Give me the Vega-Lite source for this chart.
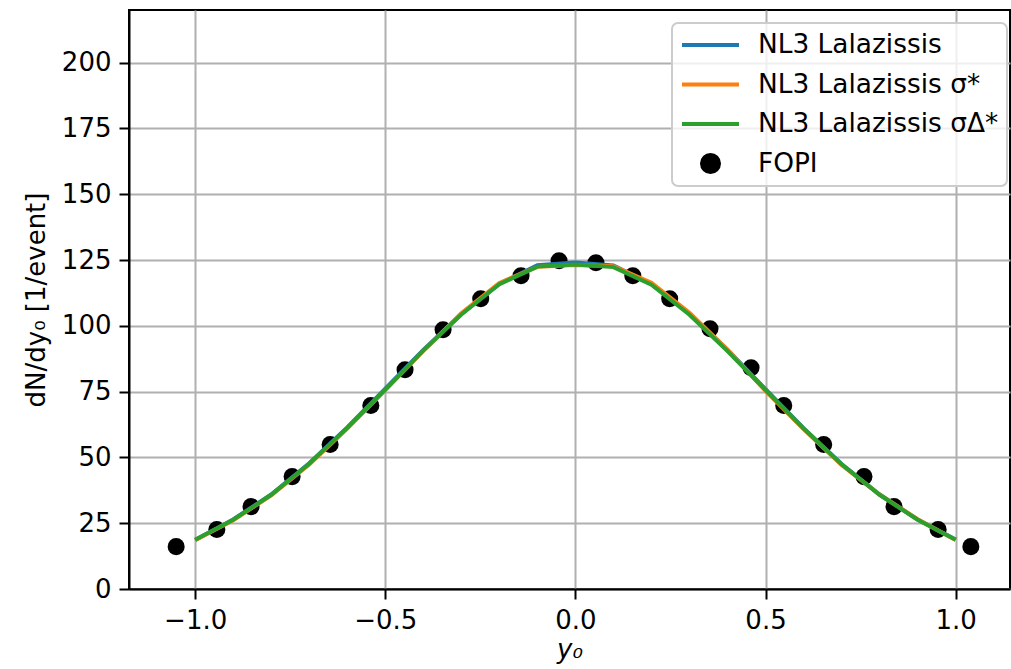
{
  "$schema": "https://vega.github.io/schema/vega-lite/v6.json",
  "width": 881,
  "height": 579,
  "autosize": {"type": "none"},
  "padding": {"left": 129, "top": 10, "right": 1, "bottom": 80},
  "background": "white",
  "config": {
    "font": "DejaVu Sans",
    "view": {"stroke": "black", "strokeWidth": 2},
    "axis": {
      "domainColor": "black",
      "domainWidth": 2,
      "tickColor": "black",
      "tickWidth": 2,
      "tickSize": 10,
      "labelFont": "DejaVu Sans",
      "labelFontSize": 26,
      "labelColor": "black",
      "labelPadding": 8,
      "titleFont": "DejaVu Sans",
      "titleFontSize": 26,
      "titleFontWeight": "normal",
      "titleColor": "black",
      "gridColor": "#b0b0b0",
      "gridWidth": 2
    }
  },
  "datasets": {
    "rapidity": [
      {"series": "FOPI", "y0": -1.050, "dndy": 16.1},
      {"series": "FOPI", "y0": -0.943, "dndy": 22.6},
      {"series": "FOPI", "y0": -0.853, "dndy": 31.3},
      {"series": "FOPI", "y0": -0.745, "dndy": 42.7},
      {"series": "FOPI", "y0": -0.645, "dndy": 54.9},
      {"series": "FOPI", "y0": -0.538, "dndy": 69.7},
      {"series": "FOPI", "y0": -0.448, "dndy": 83.3},
      {"series": "FOPI", "y0": -0.348, "dndy": 98.5},
      {"series": "FOPI", "y0": -0.249, "dndy": 110.3},
      {"series": "FOPI", "y0": -0.143, "dndy": 119.0},
      {"series": "FOPI", "y0": -0.043, "dndy": 124.7},
      {"series": "FOPI", "y0": 0.054, "dndy": 124.0},
      {"series": "FOPI", "y0": 0.151, "dndy": 119.0},
      {"series": "FOPI", "y0": 0.248, "dndy": 110.3},
      {"series": "FOPI", "y0": 0.354, "dndy": 98.9},
      {"series": "FOPI", "y0": 0.462, "dndy": 84.1},
      {"series": "FOPI", "y0": 0.548, "dndy": 69.7},
      {"series": "FOPI", "y0": 0.653, "dndy": 54.9},
      {"series": "FOPI", "y0": 0.759, "dndy": 42.7},
      {"series": "FOPI", "y0": 0.838, "dndy": 31.3},
      {"series": "FOPI", "y0": 0.954, "dndy": 22.6},
      {"series": "FOPI", "y0": 1.040, "dndy": 16.1},

      {"series": "NL3 Lalazissis", "y0": -1.0, "dndy": 18.6},
      {"series": "NL3 Lalazissis", "y0": -0.9, "dndy": 26.4},
      {"series": "NL3 Lalazissis", "y0": -0.8, "dndy": 35.9},
      {"series": "NL3 Lalazissis", "y0": -0.7, "dndy": 47.8},
      {"series": "NL3 Lalazissis", "y0": -0.6, "dndy": 61.4},
      {"series": "NL3 Lalazissis", "y0": -0.5, "dndy": 76.1},
      {"series": "NL3 Lalazissis", "y0": -0.4, "dndy": 90.8},
      {"series": "NL3 Lalazissis", "y0": -0.3, "dndy": 104.5},
      {"series": "NL3 Lalazissis", "y0": -0.2, "dndy": 115.9},
      {"series": "NL3 Lalazissis", "y0": -0.1, "dndy": 123.0},
      {"series": "NL3 Lalazissis", "y0": 0.0, "dndy": 124.1},
      {"series": "NL3 Lalazissis", "y0": 0.1, "dndy": 122.9},
      {"series": "NL3 Lalazissis", "y0": 0.2, "dndy": 115.8},
      {"series": "NL3 Lalazissis", "y0": 0.3, "dndy": 104.6},
      {"series": "NL3 Lalazissis", "y0": 0.4, "dndy": 90.9},
      {"series": "NL3 Lalazissis", "y0": 0.5, "dndy": 75.9},
      {"series": "NL3 Lalazissis", "y0": 0.6, "dndy": 61.1},
      {"series": "NL3 Lalazissis", "y0": 0.7, "dndy": 47.5},
      {"series": "NL3 Lalazissis", "y0": 0.8, "dndy": 35.9},
      {"series": "NL3 Lalazissis", "y0": 0.9, "dndy": 26.4},
      {"series": "NL3 Lalazissis", "y0": 1.0, "dndy": 18.8},

      {"series": "NL3 Lalazissis σ*", "y0": -1.0, "dndy": 18.5},
      {"series": "NL3 Lalazissis σ*", "y0": -0.9, "dndy": 26.1},
      {"series": "NL3 Lalazissis σ*", "y0": -0.8, "dndy": 35.6},
      {"series": "NL3 Lalazissis σ*", "y0": -0.7, "dndy": 47.3},
      {"series": "NL3 Lalazissis σ*", "y0": -0.6, "dndy": 61.0},
      {"series": "NL3 Lalazissis σ*", "y0": -0.5, "dndy": 75.6},
      {"series": "NL3 Lalazissis σ*", "y0": -0.4, "dndy": 90.5},
      {"series": "NL3 Lalazissis σ*", "y0": -0.3, "dndy": 104.8},
      {"series": "NL3 Lalazissis σ*", "y0": -0.2, "dndy": 116.3},
      {"series": "NL3 Lalazissis σ*", "y0": -0.1, "dndy": 122.4},
      {"series": "NL3 Lalazissis σ*", "y0": 0.0, "dndy": 123.1},
      {"series": "NL3 Lalazissis σ*", "y0": 0.1, "dndy": 122.6},
      {"series": "NL3 Lalazissis σ*", "y0": 0.2, "dndy": 116.4},
      {"series": "NL3 Lalazissis σ*", "y0": 0.3, "dndy": 105.0},
      {"series": "NL3 Lalazissis σ*", "y0": 0.4, "dndy": 90.9},
      {"series": "NL3 Lalazissis σ*", "y0": 0.5, "dndy": 75.3},
      {"series": "NL3 Lalazissis σ*", "y0": 0.6, "dndy": 60.8},
      {"series": "NL3 Lalazissis σ*", "y0": 0.7, "dndy": 47.1},
      {"series": "NL3 Lalazissis σ*", "y0": 0.8, "dndy": 35.9},
      {"series": "NL3 Lalazissis σ*", "y0": 0.9, "dndy": 26.5},
      {"series": "NL3 Lalazissis σ*", "y0": 1.0, "dndy": 18.6},

      {"series": "NL3 Lalazissis σΔ*", "y0": -1.0, "dndy": 18.7},
      {"series": "NL3 Lalazissis σΔ*", "y0": -0.9, "dndy": 26.3},
      {"series": "NL3 Lalazissis σΔ*", "y0": -0.8, "dndy": 35.8},
      {"series": "NL3 Lalazissis σΔ*", "y0": -0.7, "dndy": 47.6},
      {"series": "NL3 Lalazissis σΔ*", "y0": -0.6, "dndy": 61.2},
      {"series": "NL3 Lalazissis σΔ*", "y0": -0.5, "dndy": 75.8},
      {"series": "NL3 Lalazissis σΔ*", "y0": -0.4, "dndy": 90.6},
      {"series": "NL3 Lalazissis σΔ*", "y0": -0.3, "dndy": 104.3},
      {"series": "NL3 Lalazissis σΔ*", "y0": -0.2, "dndy": 115.8},
      {"series": "NL3 Lalazissis σΔ*", "y0": -0.1, "dndy": 122.5},
      {"series": "NL3 Lalazissis σΔ*", "y0": 0.0, "dndy": 123.3},
      {"series": "NL3 Lalazissis σΔ*", "y0": 0.1, "dndy": 122.3},
      {"series": "NL3 Lalazissis σΔ*", "y0": 0.2, "dndy": 115.6},
      {"series": "NL3 Lalazissis σΔ*", "y0": 0.3, "dndy": 104.2},
      {"series": "NL3 Lalazissis σΔ*", "y0": 0.4, "dndy": 90.4},
      {"series": "NL3 Lalazissis σΔ*", "y0": 0.5, "dndy": 75.6},
      {"series": "NL3 Lalazissis σΔ*", "y0": 0.6, "dndy": 61.0},
      {"series": "NL3 Lalazissis σΔ*", "y0": 0.7, "dndy": 47.4},
      {"series": "NL3 Lalazissis σΔ*", "y0": 0.8, "dndy": 35.8},
      {"series": "NL3 Lalazissis σΔ*", "y0": 0.9, "dndy": 26.3},
      {"series": "NL3 Lalazissis σΔ*", "y0": 1.0, "dndy": 18.7}
    ]
  },
  "data": {"name": "rapidity"},
  "encoding": {
    "x": {
      "field": "y0",
      "type": "quantitative",
      "scale": {"domain": [-1.174, 1.143], "nice": false, "zero": false},
      "axis": {
        "title": "y₀",
        "titleFontStyle": "italic",
        "titlePadding": 3,
        "values": [-1, -0.5, 0, 0.5, 1],
        "labelExpr": "replace(format(datum.value, '.1f'), '-', '−')"
      }
    },
    "y": {
      "field": "dndy",
      "type": "quantitative",
      "scale": {"domain": [0, 220], "nice": false},
      "axis": {
        "title": "dN/dy₀ [1/event]",
        "titlePadding": 12,
        "values": [0, 25, 50, 75, 100, 125, 150, 175, 200]
      }
    },
    "color": {
      "field": "series",
      "type": "nominal",
      "scale": {
        "domain": ["NL3 Lalazissis", "NL3 Lalazissis σ*", "NL3 Lalazissis σΔ*", "FOPI"],
        "range": ["#1f77b4", "#ff7f0e", "#2ca02c", "black"]
      },
      "legend": {
        "title": null,
        "orient": "none",
        "legendX": 543,
        "legendY": 13,
        "labelFont": "DejaVu Sans",
        "labelFontSize": 26.4,
        "labelColor": "black",
        "labelOffset": 17,
        "labelLimit": 400,
        "symbolSize": 3249,
        "symbolStrokeWidth": 4,
        "clipHeight": 28,
        "rowPadding": 11.5,
        "padding": 8,
        "fillColor": "rgba(255,255,255,0.8)",
        "strokeColor": "#cccccc",
        "cornerRadius": 6,
        "encode": {
          "legend": {"update": {"strokeWidth": {"value": 2}}},
          "symbols": {
            "update": {
              "shape": {"signal": "datum.value === 'FOPI' ? 'circle' : 'stroke'"},
              "size": {"signal": "datum.value === 'FOPI' ? 290 : 3249"},
              "fill": {"signal": "datum.value === 'FOPI' ? 'black' : 'transparent'"},
              "stroke": {"signal": "datum.value === 'FOPI' ? 'transparent' : scale('color', datum.value)"},
              "strokeWidth": {"value": 4},
              "opacity": {"value": 1}
            }
          }
        }
      }
    }
  },
  "layer": [
    {
      "transform": [{"filter": "datum.series === 'FOPI'"}],
      "mark": {"type": "point", "filled": true, "size": 290, "opacity": 1, "shape": "circle"}
    },
    {
      "transform": [{"filter": "datum.series === 'NL3 Lalazissis'"}],
      "mark": {"type": "line", "strokeWidth": 4, "clip": true}
    },
    {
      "transform": [{"filter": "datum.series === 'NL3 Lalazissis σ*'"}],
      "mark": {"type": "line", "strokeWidth": 4, "clip": true}
    },
    {
      "transform": [{"filter": "datum.series === 'NL3 Lalazissis σΔ*'"}],
      "mark": {"type": "line", "strokeWidth": 4, "clip": true}
    }
  ]
}
